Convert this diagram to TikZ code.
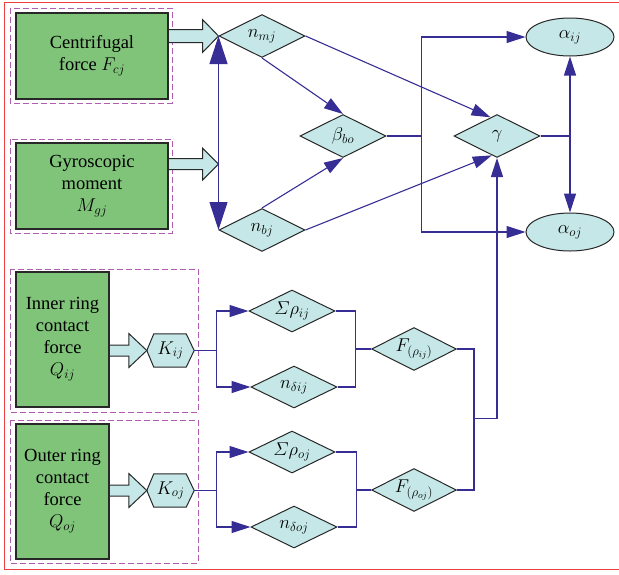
\RequirePackage{fix-cm}
\documentclass[tikz,border=0pt]{standalone}
\usepackage{fontspec}
\setmainfont{Liberation Serif}
\usetikzlibrary{shapes.geometric,arrows.meta,calc,backgrounds}
\definecolor{gboxfill}{RGB}{128,196,122}
\definecolor{cyanfill}{RGB}{197,231,231}
\definecolor{linkblue}{RGB}{54,46,148}
\definecolor{dashpurple}{RGB}{176,92,176}
\definecolor{framered}{RGB}{238,64,64}
\definecolor{edgegray}{RGB}{40,40,40}
\tikzset{
 txt/.style={font=\fontsize{18.5}{22}\selectfont},
 gbox/.style={draw=edgegray, fill=gboxfill, line width=1.3pt, inner sep=0pt, align=center, txt},
 dia/.style={diamond, draw=edgegray, fill=cyanfill, line width=1pt, inner sep=0pt, minimum width=86pt, minimum height=43pt},
 ell/.style={ellipse, draw=edgegray, fill=cyanfill, line width=1pt, inner sep=0pt, minimum width=88pt, minimum height=38pt, txt},
 hexnode/.style={txt, inner sep=0pt, minimum width=47pt, minimum height=33pt},
 hexa/.style={draw=edgegray, fill=cyanfill, line width=1pt},
 barrow/.style={draw=edgegray, fill=cyanfill, line width=1pt, line join=miter},
 conn/.style={draw=linkblue, line width=1.1pt},
 arr/.style={conn, -{Triangle[length=19pt,width=12pt]}},
 bigarr/.style={conn, {Triangle[length=28pt,width=18pt]}-{Triangle[length=28pt,width=18pt]}},
 dbox/.style={draw=dashpurple, line width=1pt, dash pattern=on 6pt off 3pt},
 every label/.style={txt, inner sep=0pt},
}
\newcommand{\fatarrow}[5]{%
 \draw[barrow] ($(#1)+(-#2,-#5)$) -- ($(#1)+(-#3,-#5)$) -- ($(#1)+(-#3,-#4)$) -- (#1)
   -- ($(#1)+(-#3,#4)$) -- ($(#1)+(-#3,#5)$) -- ($(#1)+(-#2,#5)$);}
\newcommand{\hexdraw}[1]{%
 \draw[hexa] (#1.west) -- ($(#1.north west)+(7,0)$) -- ($(#1.north east)+(-8,0)$) -- (#1.east)
   -- ($(#1.south east)+(-8,0)$) -- ($(#1.south west)+(7,0)$) -- cycle;}
\begin{document}
\begin{tikzpicture}[x=1pt,y=-1pt]
\useasboundingbox (0,0) rectangle (619,574);
\draw[framered, line width=1pt] (630,2) -- (4,2) -- (4,569) -- (630,569);
% dashed groups
\draw[dbox] (10,8) rectangle (172,103);
\draw[dbox] (10,139) rectangle (172,233);
\draw[dbox] (10,269) rectangle (198,412);
\draw[dbox] (10,420) rectangle (198,563);
% diamonds
\node[dia, label={center:$n_{mj}$}] (nmj) at (262,36) {};
\node[dia, label={center:$n_{bj}$}] (nbj) at (262,230) {};
\node[dia, label={center:$\beta_{bo}$}] (bet) at (343,136) {};
\node[dia, label={center:$\gamma$}] (gam) at (497,136) {};
\node[dia, minimum height=42pt, label={center:$\mathnormal{\Sigma}\rho_{ij}$}] (sij) at (292,311) {};
\node[dia, minimum height=42pt, label={center:$n_{\delta ij}$}] (ndij) at (294,387) {};
\node[dia, minimum height=42pt, label={center:$\mathnormal{\Sigma}\rho_{oj}$}] (soj) at (292,452) {};
\node[dia, minimum height=42pt, label={center:$n_{\delta oj}$}] (ndoj) at (294,527) {};
\node[dia, minimum width=85pt, label={center:$F_{(\rho_{ij})}$}] (fij) at (414,349) {};
\node[dia, minimum width=85pt, label={center:$F_{(\rho_{oj})}$}] (foj) at (414,490) {};
% ellipses
\node[ell] (aij) at (570,37) {$\alpha_{ij}$};
\node[ell] (aoj) at (570,232) {$\alpha_{oj}$};
% hexagons
\node[hexnode] (Kij) at (170.5,350.5) {$K_{ij}$};
\node[hexnode] (Koj) at (170.5,490.5) {$K_{oj}$};
\begin{scope}[on background layer]
\hexdraw{Kij}
\hexdraw{Koj}
\end{scope}
% block arrows
\coordinate (gtip) at ($(nmj.west)!0.66!(nbj.west)$);
\fatarrow{nmj.west}{60}{16}{16.5}{6.5}
\fatarrow{gtip}{60}{16}{16}{5.5}
\fatarrow{Kij.west}{45}{18}{17}{5.5}
\fatarrow{Koj.west}{45}{18}{17}{5.5}
% green boxes
\node[gbox, minimum width=152pt, minimum height=86pt] (cf) at (92,56) {Centrifugal\\force $F_{cj}$};
\node[gbox, minimum width=152pt, minimum height=86pt] (gm) at (92,186) {Gyroscopic\\moment\\$M_{gj}$};
\node[gbox, minimum width=93pt, minimum height=135pt] (ir) at (62.5,339.5) {Inner ring\\contact\\force\\$Q_{ij}$};
\node[gbox, minimum width=93pt, minimum height=135pt] (or) at (62.5,491.5) {Outer ring\\contact\\force\\$Q_{oj}$};
% upper connectors
\draw[bigarr] (nmj.west) -- (nbj.west);
\draw[arr] (nmj.south) -- (bet.north);
\draw[arr] (nbj.north) -- (bet.south);
\draw[arr] (nmj.east) -- ($(gam.north)!0.15!(gam.west)$);
\draw[arr] (nbj.east) -- ($(gam.south)!0.12!(gam.west)$);
\coordinate (jb) at ($(bet.east)+(35,0)$);
\draw[conn] (bet.east) -- (jb);
\draw[arr] (jb) |- (aij.west);
\draw[arr] (jb) |- (aoj.west);
\coordinate (jg) at (aij.south |- gam.east);
\draw[conn] (gam.east) -- (jg);
\draw[arr] (jg) -- (aij.south);
\draw[arr] (jg) -- (aoj.north);
% lower connectors
\coordinate (ki) at ($(Kij.east)+(22,0)$);
\draw[conn] (Kij.east) -- (ki);
\draw[arr] (ki) |- (sij.west);
\draw[arr] (ki) |- (ndij.west);
\coordinate (ko) at ($(Koj.east)+(22,0)$);
\draw[conn] (Koj.east) -- (ko);
\draw[arr] (ko) |- (soj.west);
\draw[arr] (ko) |- (ndoj.west);
\coordinate (si) at ($(sij.east)+(20,0)$);
\draw[conn] (sij.east) -- (si) -- (si |- ndij.east) -- (ndij.east);
\draw[conn] (si |- fij.west) -- (fij.west);
\coordinate (so) at ($(soj.east)+(21,0)$);
\draw[conn] (soj.east) -- (so) -- (so |- ndoj.east) -- (ndoj.east);
\draw[conn] (so |- foj.west) -- (foj.west);
\coordinate (fr) at ($(fij.east)+(17,0)$);
\draw[conn] (fij.east) -- (fr) -- (fr |- foj.east) -- (foj.east);
\coordinate (fm) at ($(fr)!0.49!(fr |- foj.east)$);
\draw[arr] (fm) -| (gam.south);
\end{tikzpicture}
\end{document}
